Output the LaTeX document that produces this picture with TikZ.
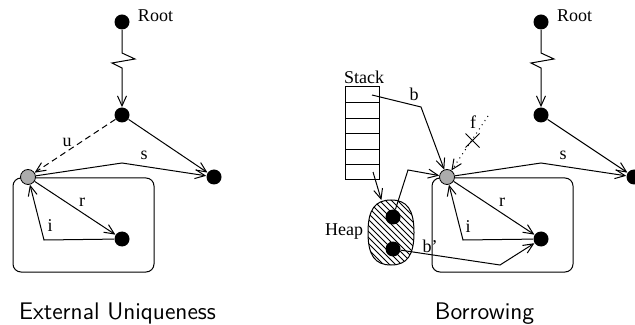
\documentclass[tikz,border=0pt]{standalone}
\usepackage{fontspec}
\setmainfont{Liberation Serif}
\usetikzlibrary{arrows.meta,patterns}
\begin{document}
\begin{tikzpicture}[x=0.5pt,y=-0.5pt,
  lbl/.style={font=\fontsize{9}{11}\selectfont, inner sep=0pt},
  obj/.style={circle, fill=black, minimum size=7.5pt, inner sep=0pt},
  ref/.style={circle, draw=black, line width=0.4pt, fill=gray!65, minimum size=7.5pt, inner sep=0pt},
  edge/.style={line width=0.5pt, -{Straight Barb[length=5pt,width=4.5pt]}},
  region/.style={draw, line width=0.5pt, rounded corners=4pt},
  caption/.style={font=\sffamily\fontsize{12}{14}\selectfont, anchor=base, inner sep=0pt}
]
\useasboundingbox (0,0) rectangle (635,325);

% ---------- External uniqueness ----------
\draw[region] (13,178) rectangle (154,272);
\node[obj] (rootA) at (122,22) {};
\node[lbl] at (155.5,16) {Root};
\node[obj] (midA) at (122,115) {};
\node[obj] (farA) at (214,177) {};
\node[ref] (refA) at (28,177) {};
\node[obj] (inA) at (122,239) {};

\draw[edge] (rootA) -- (122,53) -- (135,59) -- (112,63) -- (122,68) -- (midA);
\draw[edge, dash pattern=on 3pt off 2pt] (midA) -- (refA);
\node[lbl] at (67,142) {u};
\draw[edge] (midA) -- (farA);
\draw[edge] (refA) -- (122,163) -- (farA);
\node[lbl] at (144,155) {s};
\draw[edge] (refA) -- (inA);
\node[lbl] at (82,202) {r};
\draw[edge] (inA) -- (44,240) -- (refA);
\node[lbl] at (50,226) {i};

\node[caption] at (117.5,319) {External Uniqueness};

% ---------- Borrowing ----------
\draw[region] (432,178) rectangle (573,272);
\node[obj] (rootB) at (541,22) {};
\node[lbl] at (574.5,16) {Root};
\node[obj] (midB) at (541,115) {};
\node[obj] (farB) at (634,177) {};
\node[ref] (refB) at (447,177) {};
\node[obj] (inB) at (541,239) {};

\draw[edge] (rootB) -- (541,53) -- (554,59) -- (531,63) -- (541,68) -- (midB);
\draw[edge] (midB) -- (farB);
\draw[edge] (refB) -- (541,163) -- (farB);
\node[lbl] at (563,155) {s};
\draw[edge] (refB) -- (inB);
\node[lbl] at (502,202) {r};
\draw[edge] (inB) -- (463,240) -- (refB);
\node[lbl] at (468,227) {i};

% forbidden field reference
\coordinate (fstart) at (488,116);
\draw[edge, dotted] (fstart) -- (refB);
\draw[line width=0.5pt] (465.5,133.5) -- (479.5,147.5) (465.5,147.5) -- (479.5,133.5);
\node[lbl] at (473,122) {f};

% stack
\node[draw, line width=0.5pt, minimum width=17pt, minimum height=46.5pt, inner sep=0pt] (stack) at (362,133.5) {};
\foreach \yy in {103,118.5,134,149.5,165}
  \draw[line width=0.5pt] (345,\yy) -- (379,\yy);
\node[lbl] at (364,77) {Stack};
\coordinate (topcell) at (372,95);
\coordinate (botcell) at (373,172);

% heap: a squarish oval, hatched
\node[minimum width=23pt, minimum height=32pt, inner sep=0pt] (heap) at (391,232.5) {};
\draw[line width=0.5pt, pattern=north west lines]
  (368,232.5) .. controls (368,209.75) and (374.9,200) .. (391,200)
  .. controls (407.1,200) and (414,209.75) .. (414,232.5)
  .. controls (414,255.25) and (407.1,265) .. (391,265)
  .. controls (374.9,265) and (368,255.25) .. (368,232.5) -- cycle;
\node[lbl] at (344,232) {Heap};
\node[obj] (hA) at (393,217) {};
\node[obj] (hB) at (393,249) {};

\draw[edge] (topcell) -- (421,107) -- (refB);
\node[lbl] at (414,94) {b};
\draw[edge] (botcell) -- (heap);
\draw[edge] (hA) -- (408,170) -- (refB);
\draw[edge] (hB) -- (500,265) -- (inB);
\node[lbl] at (430,246) {b'};

\node[caption] at (484.5,319) {Borrowing};
\end{tikzpicture}
\end{document}
